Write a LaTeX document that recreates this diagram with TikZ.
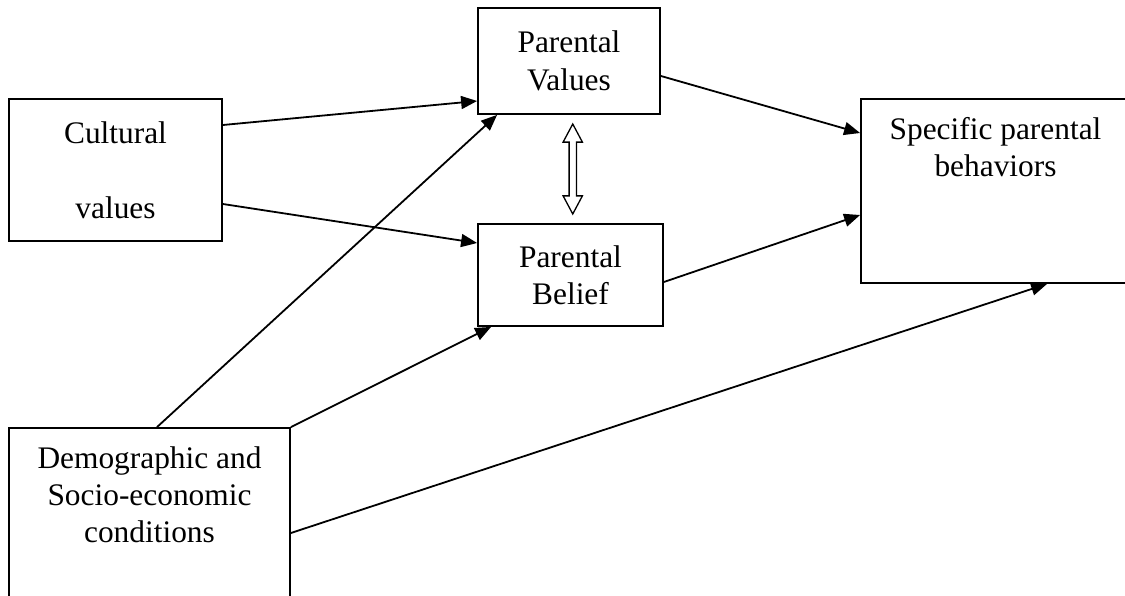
\documentclass[tikz,border=0pt]{standalone}
\usepackage{fontspec}
\setmainfont{Liberation Serif}
\usetikzlibrary{positioning,calc,shapes.arrows,arrows.meta}
\tikzset{
    % boxes of the model
    factor/.style={draw, rectangle, line width=1.8bp, align=center,
                   inner sep=0pt, font=\fontsize{31.5}{37.5}\selectfont},
    % text set at the top of a box
    toptext/.style={anchor=north, align=center, inner sep=0pt,
                    font=\fontsize{31.5}{37.5}\selectfont},
    effect/.style={line width=1.8bp, -{Triangle[length=16bp,width=13bp]}},
    mutual/.style={draw, double arrow, line width=1.3bp, rotate=90,
                   inner xsep=0pt, inner ysep=3bp, minimum height=90bp,
                   double arrow head extend=6bp, double arrow tip angle=56}
}
\begin{document}
\begin{tikzpicture}[x=1bp, y=-1bp]
    \useasboundingbox (0,0) rectangle (1125,596);
    \node[factor, minimum width=213bp, minimum height=142bp] (cult) at (115.5,170)
        {Cultural\\[37.5bp]values};
    \node[factor, minimum width=182bp, minimum height=106bp] (pval) at (569,61)
        {Parental\\Values};
    \node[factor, minimum width=185bp, minimum height=102bp] (pbel) at (570.5,275)
        {Parental\\Belief};
    \node[factor, minimum width=269bp, minimum height=184bp] (spec) at (995.5,191) {};
    \node[toptext, below=19bp of spec.north] (spec-txt) {Specific parental\\behaviors};
    \node[factor, minimum width=281bp, minimum height=176bp] (demo) at (149.5,516) {};
    \node[toptext, below=19bp of demo.north] (demo-txt) {Demographic and\\Socio-economic\\conditions};
    % values <-> belief
    \node[mutual] (link) at ($(pval.south)!0.5!(pbel.north)+(3,0)$) {};
    % influences
    \draw[effect] ([yshift=45bp]cult.east) -- ([yshift=-40bp]pval.west);
    \draw[effect] ([yshift=-34bp]cult.east) -- ([yshift=32bp]pbel.west);
    \draw[effect] ([yshift=-15bp]pval.east) -- ([yshift=58bp]spec.west);
    \draw[effect] ([yshift=-7bp]pbel.east) -- ([yshift=-24bp]spec.west);
    \draw[effect] ([xshift=7.5bp]demo.north) -- ([xshift=20bp]pval.south west);
    \draw[effect] (demo.north east) -- ([xshift=14bp]pbel.south west);
    \draw[effect] ([yshift=-17bp]demo.east) -- ([xshift=187bp]spec.south west);
\end{tikzpicture}
\end{document}
